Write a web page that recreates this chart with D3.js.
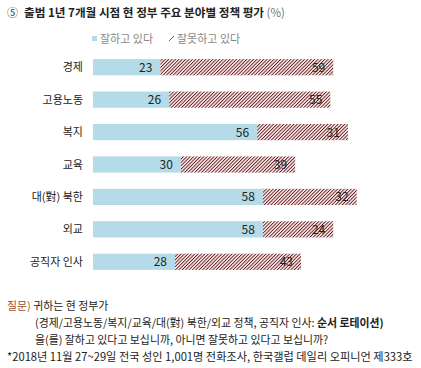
<!DOCTYPE html>
<html><head><meta charset="utf-8">
<script src="https://cdn.jsdelivr.net/npm/d3@7"></script>
<style>
body{margin:0;background:#fff;}
text{font-family:"Noto Sans CJK KR","Noto Sans",sans-serif;}
</style></head>
<body><svg id="c" width="421" height="368"></svg>
<script>
const categories = ["경제","고용노동","복지","교육","대(對) 북한","외교","공직자 인사"];
const good = [23,26,56,30,58,58,28];
const bad = [59,55,31,39,32,24,43];
const seriesNames = ["잘하고 있다","잘못하고 있다"];
const title = "출범 1년 7개월 시점 현 정부 주요 분야별 정책 평가";
const footLines = [
  ["질문)"," 귀하는 현 정부가"],
  ["","(경제/고용노동/복지/교육/대(對) 북한/외교 정책, 공직자 인사: ","순서 로테이션)"],
  ["","을(를) 잘하고 있다고 보십니까, 아니면 잘못하고 있다고 보십니까?"],
  ["","*2018년 11월 27~29일 전국 성인 1,001명 전화조사, 한국갤럽 데일리 오피니언 제333호"]
];

const svg = d3.select("#c");
const defs = svg.append("defs");
const pat = defs.append("pattern").attr("id","hatch").attr("patternUnits","userSpaceOnUse")
  .attr("width",2.4).attr("height",2.4).attr("patternTransform","rotate(45)");
pat.append("rect").attr("width",2.4).attr("height",2.4).attr("fill","#fcecec");
pat.append("rect").attr("x",0).attr("width",0.9).attr("height",2.4).attr("fill","#5e1a1e");

const x = d3.scaleLinear().domain([0,100]).range([93,386]);
const y = d3.scaleBand().domain(categories).range([51,278]).paddingInner(0.5).paddingOuter(0.25);

// title
svg.append("text").attr("x",7).attr("y",17).attr("font-size",11).attr("fill","#333").text("⑤");
const t = svg.append("text").attr("x",24).attr("y",17).attr("font-size",11.6).attr("font-weight","bold").attr("fill","#222");
t.append("tspan").text(title);
t.append("tspan").attr("font-weight","normal").attr("fill","#777").attr("font-size",11.5).text(" (%)");

// legend
svg.append("rect").attr("x",92).attr("y",36).attr("width",5).attr("height",5).attr("fill","#b4dbe7");
svg.append("text").attr("x",100).attr("y",43).attr("font-size",11).attr("fill","#888").text(seriesNames[0]);
svg.append("path").attr("d","M169,41 L174,36").attr("stroke","#8a4a4a").attr("stroke-width",1);
svg.append("text").attr("x",177).attr("y",43).attr("font-size",11).attr("fill","#888").text(seriesNames[1]);

const rows = svg.append("g").selectAll("g").data(categories).join("g");
rows.append("text").attr("x",83).attr("y",d=>y(d)+y.bandwidth()/2+4).attr("text-anchor","end")
  .attr("font-size",11).attr("fill","#222").text(d=>d);
rows.append("rect").attr("x",x(0)).attr("y",d=>y(d)).attr("height",y.bandwidth())
  .attr("width",(d,i)=>x(good[i])-x(0)).attr("fill","#b4dbe7");
rows.append("rect").attr("x",(d,i)=>x(good[i])).attr("y",d=>y(d)).attr("height",y.bandwidth())
  .attr("width",(d,i)=>x(good[i]+bad[i])-x(good[i])).attr("fill","url(#hatch)");
rows.append("text").attr("x",(d,i)=>x(good[i])-8).attr("y",d=>y(d)+y.bandwidth()/2+4.5)
  .attr("text-anchor","end").attr("font-size",12).attr("fill","#222").text((d,i)=>good[i]);
rows.append("text").attr("x",(d,i)=>x(good[i]+bad[i])-8).attr("y",d=>y(d)+y.bandwidth()/2+4.5)
  .attr("text-anchor","end").attr("font-size",12).attr("fill","#222").text((d,i)=>bad[i]);

// footer
const fy = [310,327,344,361];
const fx = [7,35,35,7];
footLines.forEach((ln,i)=>{
  const tt = svg.append("text").attr("x",fx[i]).attr("y",fy[i]).attr("font-size",i===3?11.2:10.9).attr("fill","#222");
  if(ln[0]) tt.append("tspan").attr("fill","#a0522d").text(ln[0]);
  tt.append("tspan").text(ln[1]);
  if(ln[2]) tt.append("tspan").attr("font-weight","bold").text(ln[2]);
});
</script></body></html>
